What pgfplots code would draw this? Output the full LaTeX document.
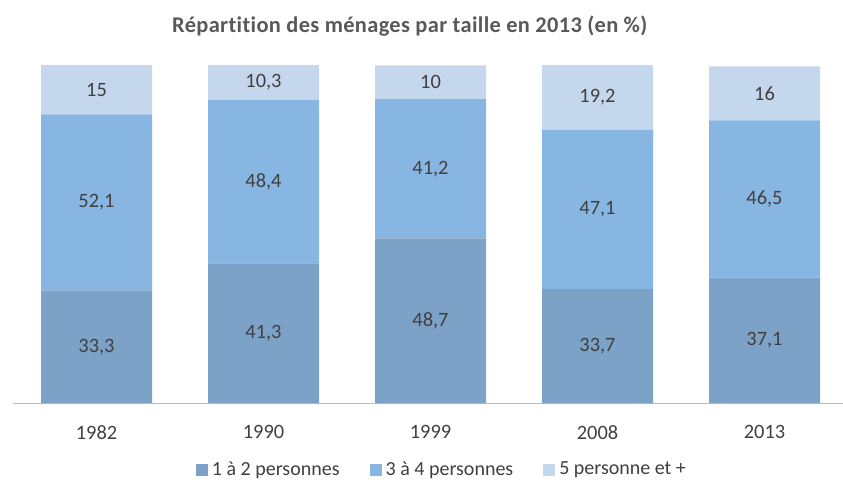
\documentclass[border=0pt]{standalone}
\usepackage{pgfplots}
\pgfplotsset{compat=1.18}
\usepackage{fontspec}
\setmainfont{Carlito}[Ligatures=NoCommon]

\definecolor{cA}{RGB}{125,162,199}
\definecolor{cB}{RGB}{136,182,226}
\definecolor{cC}{RGB}{197,215,237}
\definecolor{txt}{RGB}{64,64,64}
\definecolor{ttl}{RGB}{89,89,89}

\begin{document}
\begin{tikzpicture}
\useasboundingbox (-6.5pt,-38pt) rectangle (415pt,201.5pt);
% stacked bars
\begin{axis}[
    scale only axis,
    width=415pt, height=169pt,
    ybar stacked,
    bar width=55.5pt,
    xmin=-0.5, xmax=4.47,
    ymin=0, ymax=100,
    axis x line=bottom,
    axis y line=none,
    x axis line style={-, draw=black!27},
    xtick={0,1,2,3,4},
    xticklabels={1982,1990,1999,2008,2013},
    xtick style={draw=none},
    xticklabel style={font=\fontsize{10.2}{12}\selectfont, text=txt, yshift=-5.5pt},
    ytick=\empty,
    legend style={at={(0.518,0)}, anchor=center, yshift=-33.5pt, draw=none,
        font=\fontsize{10}{12}\selectfont, text=txt, legend columns=-1,
        /tikz/every even column/.append style={column sep=13pt}},
    legend image code/.code={\fill[#1] (0pt,-3pt) rectangle (6pt,3pt);},
]
\addplot[fill=cA, draw=none] coordinates {(0,33.3) (1,41.3) (2,48.7) (3,33.7) (4,37.1)};
\addplot[fill=cB, draw=none] coordinates {(0,52.1) (1,48.4) (2,41.2) (3,47.1) (4,46.5)};
\addplot[fill=cC, draw=none] coordinates {(0,15) (1,10.3) (2,10) (3,19.2) (4,16)};
\legend{1 à 2 personnes, 3 à 4 personnes, 5 personne et +}
\end{axis}
% value labels centred in the segments
\begin{axis}[
    scale only axis,
    width=415pt, height=169pt,
    xmin=-0.5, xmax=4.47,
    ymin=0, ymax=100,
    hide axis, clip=false,
]
\addplot[only marks, mark=none, point meta=explicit symbolic,
    nodes near coords, nodes near coords align={center},
    every node near coord/.append style={font=\fontsize{10.2}{12}\selectfont, text=txt}]
    coordinates {
    (0,16.65) [33,3] (1,20.65) [41,3] (2,24.35) [48,7] (3,16.85) [33,7] (4,18.55) [37,1]
    (0,59.35) [52,1] (1,65.5) [48,4] (2,69.3) [41,2] (3,57.25) [47,1] (4,60.35) [46,5]
    (0,92.7) [15] (1,94.85) [10,3] (2,94.9) [10] (3,90.4) [19,2] (4,91.6) [16]
    };
\node[font=\bfseries\fontsize{11.2}{13}\selectfont, text=ttl]
    at (axis description cs:0.478,1) [yshift=19.5pt] {\addfontfeature{LetterSpace=1.6}Répartition des ménages par taille en 2013 (en \%)};
\end{axis}
\end{tikzpicture}
\end{document}
